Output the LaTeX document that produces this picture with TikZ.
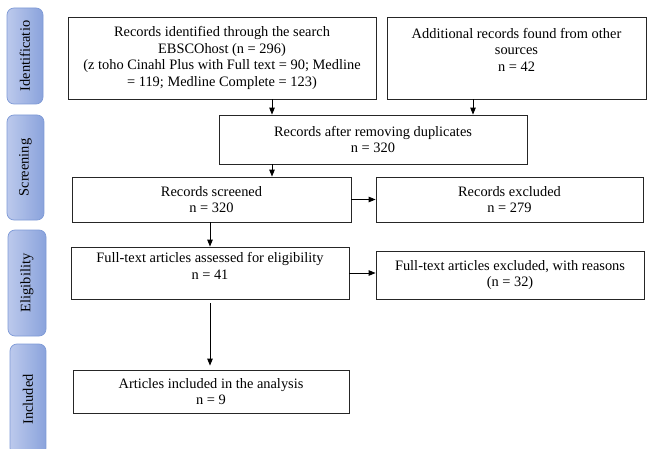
\documentclass[tikz,border=0pt]{standalone}
\usepackage{fontspec}
\setmainfont{Liberation Serif}
\usetikzlibrary{arrows.meta}
\definecolor{phlight}{HTML}{BCC9EC}
\definecolor{phdark}{HTML}{8AA3DC}
\definecolor{phedge}{HTML}{7E9AD6}
\tikzset{
  box/.style={draw=black!85, line width=0.8pt, align=center, inner sep=2pt,
    font=\fontsize{14.4}{16.7}\selectfont},
  phase/.style={draw=phedge, line width=0.7pt, rounded corners=7pt,
    left color=phlight, right color=phdark, inner sep=0pt,
    font=\fontsize{14.4}{16.7}\selectfont},
  arr/.style={-{Triangle[length=7pt,width=5.5pt]}, line width=0.9pt, black}
}
\begin{document}
\begin{tikzpicture}[x=1pt,y=-1pt]
\useasboundingbox (0,0) rectangle (647,449);
\clip (0,0) rectangle (647,449);
% phase labels
\node[phase, minimum width=36pt, minimum height=96pt] (s1) at (25,56) {\rotatebox{90}{Identificatio}};
\node[phase, minimum width=37pt, minimum height=105pt] (s2) at (25.5,167.5) {\rotatebox{90}{Screening}};
\node[phase, minimum width=38pt, minimum height=106pt] (s3) at (27,283) {\rotatebox{90}{Eligibility}};
\node[phase, minimum width=36pt, minimum height=111pt] (s4) at (28,399.5) {\rotatebox{90}{Included}};
% boxes
\node[box, minimum width=308pt, minimum height=82pt] (b1) at (222,58)
  {Records identified through the search\\EBSCOhost (n = 296)\\(z toho Cinahl Plus with Full text = 90; Medline\\= 119; Medline Complete = 123)};
\node[box, minimum width=259pt, minimum height=82pt] (b2) at (516.5,58)
  {Additional records found from other\\sources\\n = 42\\~};
\node[box, minimum width=308pt, minimum height=49pt] (b3) at (373,139.5)
  {Records after removing duplicates\\n = 320};
\node[box, minimum width=279pt, minimum height=45pt] (b4) at (211.5,199.5)
  {Records screened\\n = 320};
\node[box, minimum width=267pt, minimum height=45pt] (b5) at (509.5,199.5)
  {Records excluded\\n = 279};
\node[box, minimum width=278pt, minimum height=52pt] (b6) at (210,273)
  {Full-text articles assessed for eligibility\\n = 41\\[-3pt]~};
\node[box, minimum width=268pt, minimum height=48pt] (b7) at (510,275)
  {Full-text articles excluded, with reasons\\(n = 32)};
\node[box, minimum width=276pt, minimum height=43pt] (b8) at (211,391.5)
  {Articles included in the analysis\\n = 9};
% connector columns
\coordinate (x1) at (272,0);
\coordinate (x2) at (473,0);
\coordinate (x3) at (210,0);
\draw[arr] (b1.south -| x1) -- (b3.north -| x1);
\draw[arr] (b2.south -| x2) -- (b3.north -| x2);
\draw[arr] (b3.south -| x1) -- (b4.north -| x1);
\draw[arr] (b4.south -| x3) -- (b6.north -| x3);
\draw[arr] (b4.east) -- (b5.west |- b4.east);
\draw[arr] (b6.east) -- (b7.west |- b6.east);
\draw[arr, shorten <=4pt, shorten >=4pt] (b6.south -| x3) -- (b8.north -| x3);
\end{tikzpicture}
\end{document}
